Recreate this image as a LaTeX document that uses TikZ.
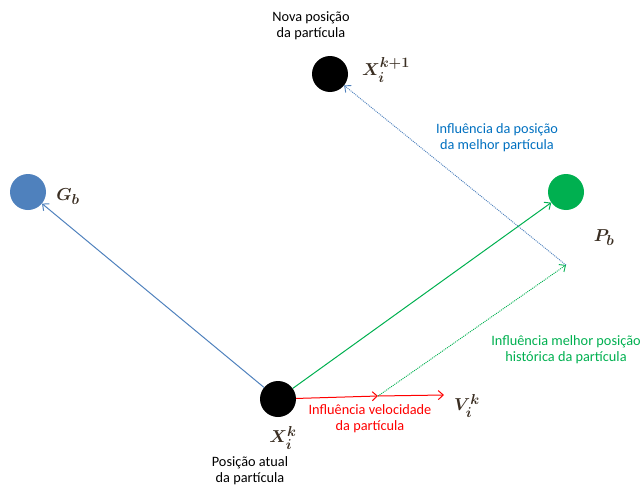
\documentclass[tikz,border=0pt]{standalone}
\usepackage{fontspec}
\setmainfont{Carlito}
\usepackage{amsmath,bm}
\usetikzlibrary{arrows.meta}
\definecolor{obl}{HTML}{4F81BD}
\definecolor{ogr}{HTML}{00B050}
\definecolor{ored}{HTML}{FF0000}
\definecolor{tbl}{HTML}{0070C0}
\definecolor{mathc}{HTML}{3A2E22}
\tikzset{
  dot/.style={circle, minimum size=36pt, inner sep=0pt, draw=none},
  tip/.style={-{Straight Barb[length=5pt,width=9pt]}},
  conn/.style={tip, line width=1pt},
  dotconn/.style={tip, line width=0.9pt, dash pattern=on 1pt off 1pt},
  lbl/.style={align=center, font=\fontsize{14.3}{16}\selectfont, inner sep=0pt},
  mlbl/.style={inner sep=0pt, text=mathc, font=\fontsize{19}{22}\selectfont},
}
\begin{document}
\begin{tikzpicture}[x=1pt,y=-1pt]
\useasboundingbox (0,0) rectangle (641,490);
% particles
\node[dot, fill=black] (new) at (330,74) {};
\node[dot, fill=obl] (gb) at (28,192) {};
\node[dot, fill=ogr] (pb) at (566,192) {};
\node[dot, fill=black] (x) at (278,399) {};
\coordinate (m) at (378,396);
\coordinate (v) at (444,395);
\coordinate (g2) at (566,265);
% connectors
\draw[conn, obl] (x) -- (gb);
\draw[conn, ogr] (x) -- (pb);
\draw[conn, ored] (x) -- (m);
\draw[conn, ored] (m) -- (v);
\draw[dotconn, ogr] (m) -- (g2);
\draw[dotconn, obl] (g2) -- (new);
% labels
\node[lbl] (tnova) at (311,26) {Nova posição\\da partícula};
\node[mlbl] (lnew) at (386,70) {$\bm{X_i^{k+1}}$};
\node[lbl, text=tbl] (tinfb) at (497,138) {Influência da posição\\da melhor partícula};
\node[mlbl] (lgb) at (68,197) {$\bm{G_b}$};
\node[mlbl] (lpb) at (604,238) {$\bm{P_b}$};
\node[lbl, text=ogr] (tinfg) at (566,350) {Influência melhor posição\\histórica da partícula};
\node[lbl, text=ored] (tinfr) at (370,419) {Influência velocidade\\da partícula};
\node[mlbl] (lv) at (467,406) {$\bm{V_i^k}$};
\node[mlbl] (lx) at (283,438) {$\bm{X_i^k}$};
\node[lbl] (tatual) at (250,471) {Posição atual\\da partícula};
\end{tikzpicture}
\end{document}
